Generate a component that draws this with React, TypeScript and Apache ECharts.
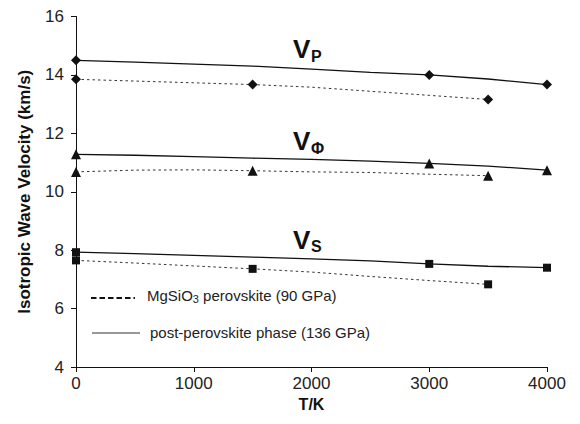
import React, { useEffect, useRef } from "react";
import * as echarts from "echarts";

const temps = [0, 500, 1000, 1500, 2000, 2500, 3000, 3500, 4000];
const pvTemps = [0, 500, 1000, 1500, 2000, 2500, 3000, 3500];

// post-perovskite phase (136 GPa), solid lines
const ppvVp = [14.5, 14.44, 14.37, 14.3, 14.2, 14.09, 14.0, 13.86, 13.67];
const ppvVphi = [11.28, 11.25, 11.2, 11.15, 11.11, 11.05, 10.97, 10.88, 10.74];
const ppvVs = [7.93, 7.88, 7.82, 7.76, 7.7, 7.63, 7.53, 7.45, 7.4];
const ppvMarkerTemps = [0, 3000, 4000];

// MgSiO3 perovskite (90 GPa), dashed lines
const pvVp = [13.85, 13.79, 13.73, 13.67, 13.58, 13.44, 13.3, 13.16];
const pvVphi = [10.68, 10.74, 10.75, 10.72, 10.68, 10.66, 10.6, 10.55];
const pvVs = [7.65, 7.56, 7.46, 7.36, 7.25, 7.1, 6.96, 6.83];
const pvMarkerTemps = [0, 1500, 3500];

const yTicks = { min: 4, max: 16, interval: 2 };
const xTicks = { min: 0, max: 4000, interval: 1000 };

const FONT = "'Liberation Sans', Arial, sans-serif";
const INK = "#111";

function makeSeries(
  xs: number[],
  ys: number[],
  marks: number[],
  symbol: string,
  size: number,
  dashed: boolean
) {
  return {
    type: "line",
    showSymbol: true,
    showAllSymbol: true,
    symbolSize: size,
    data: xs.map((x, i) => ({
      value: [x, ys[i]],
      symbol: marks.includes(x) ? symbol : "none",
    })),
    lineStyle: dashed
      ? { color: "#333", width: 1, type: [2.5, 3] }
      : { color: INK, width: 1.3, type: "solid" },
    itemStyle: { color: INK, borderWidth: 0 },
    z: 3,
  };
}

export default function App() {
  const ref = useRef<HTMLDivElement>(null);
  useEffect(() => {
    if (!ref.current) return;
    const chart = echarts.init(ref.current, undefined, { renderer: "svg" });
    const vLabel = (sub: string, x: number, y: number, dy: number) => [
      {
        type: "text",
        x,
        y,
        style: {
          text: "V",
          fontFamily: FONT,
          fontSize: 26,
          fontWeight: "bold",
          fill: INK,
          verticalAlign: "middle",
          align: "left",
        },
      },
      {
        type: "text",
        x: x + 18,
        y: y + dy,
        style: {
          text: sub,
          fontFamily: FONT,
          fontSize: 16,
          fontWeight: "bold",
          fill: INK,
          verticalAlign: "middle",
          align: "left",
        },
      },
    ];
    chart.setOption({
      animation: false,
      backgroundColor: "#fff",
      grid: { left: 63, right: 33, top: 7, bottom: 57 },
      xAxis: {
        type: "value",
        ...xTicks,
        name: "T/K",
        nameLocation: "middle",
        nameGap: 29,
        nameTextStyle: { fontFamily: FONT, fontSize: 16, fontWeight: "bold", color: INK },
        axisLine: { show: true, onZero: false, lineStyle: { color: INK, width: 1 } },
        axisTick: { show: true, length: 5, lineStyle: { color: INK } },
        axisLabel: {
          fontFamily: FONT,
          fontSize: 17,
          color: "#222",
          margin: 8,
          formatter: (v: number) => String(v),
        },
        splitLine: { show: false },
      },
      yAxis: {
        type: "value",
        ...yTicks,
        name: "Isotropic Wave Velocity (km/s)",
        nameLocation: "middle",
        nameGap: 43,
        nameTextStyle: { fontFamily: FONT, fontSize: 17, fontWeight: "bold", color: INK },
        axisLine: { show: true, onZero: false, lineStyle: { color: INK, width: 1 } },
        axisTick: { show: true, length: 5, lineStyle: { color: INK } },
        axisLabel: { fontFamily: FONT, fontSize: 17, color: "#222", margin: 12 },
        splitLine: { show: false },
      },
      series: [
        makeSeries(temps, ppvVp, ppvMarkerTemps, "diamond", 10, false),
        makeSeries(temps, ppvVphi, ppvMarkerTemps, "triangle", 10, false),
        makeSeries(temps, ppvVs, ppvMarkerTemps, "rect", 8, false),
        makeSeries(pvTemps, pvVp, pvMarkerTemps, "diamond", 10, true),
        makeSeries(pvTemps, pvVphi, pvMarkerTemps, "triangle", 10, true),
        makeSeries(pvTemps, pvVs, pvMarkerTemps, "rect", 8, true),
      ],
      graphic: [
        ...vLabel("P", 285, 41, 7),
        ...vLabel("Φ", 285, 133, 7),
        ...vLabel("S", 285, 232, 6),
        {
          type: "line",
          shape: { x1: 83, y1: 290, x2: 127, y2: 290 },
          style: { stroke: INK, lineWidth: 2.2, lineDash: [5.5, 3] },
        },
        {
          type: "text",
          x: 139,
          y: 287,
          style: {
            text: "{t|MgSiO}{s|3}{t| perovskite (90 GPa)}",
            verticalAlign: "middle",
            rich: {
              t: { fontFamily: FONT, fontSize: 15, fill: "#222" },
              s: { fontFamily: FONT, fontSize: 11, fill: "#222", verticalAlign: "bottom", padding: [7, 0, 0, 0] },
            },
          },
        },
        {
          type: "line",
          shape: { x1: 84, y1: 325, x2: 132, y2: 325 },
          style: { stroke: "#333", lineWidth: 1 },
        },
        {
          type: "text",
          x: 142,
          y: 324,
          style: {
            text: "post-perovskite phase (136 GPa)",
            fontFamily: FONT,
            fontSize: 15,
            fill: "#222",
            verticalAlign: "middle",
          },
        },
      ],
    });
    return () => chart.dispose();
  }, []);
  return <div ref={ref} style={{ width: 572, height: 416 }} />;
}
